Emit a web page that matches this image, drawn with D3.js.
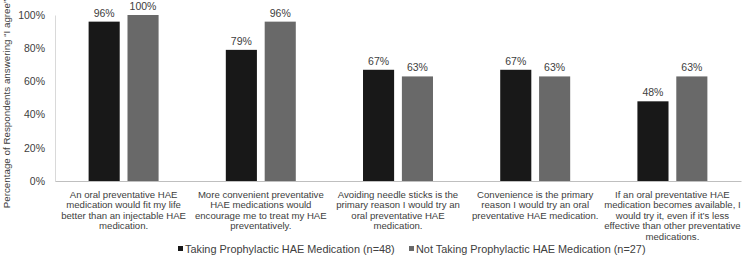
<!DOCTYPE html>
<html>
<head>
<meta charset="utf-8">
<script src="https://cdn.jsdelivr.net/npm/d3@7"></script>
<style>
  body { margin: 0; background: #fff; }
  text { font-family: "Liberation Sans", Arial, sans-serif; fill: #404040; }
</style>
</head>
<body>
<svg class="chart" width="745" height="264"></svg>
<script>
let categories = [
  ['An oral preventative HAE', 'medication would fit my life', 'better than an injectable HAE', 'medication.'],
  ['More convenient preventative', 'HAE medications would', 'encourage me to treat my HAE', 'preventatively.'],
  ['Avoiding needle sticks is the', 'primary reason I would try an', 'oral preventative HAE', 'medication.'],
  ['Convenience is the primary', 'reason I would try an oral', 'preventative HAE medication.'],
  ['If an oral preventative HAE', 'medication becomes available, I', 'would try it, even if it\u2019s less', 'effective than other preventative', 'medications.']
];
let seriesNames = ['Taking Prophylactic HAE Medication (n=48)', 'Not Taking Prophylactic HAE Medication (n=27)'];
let takingValues = [96, 79, 67, 67, 48];
let notTakingValues = [100, 96, 63, 63, 63];
let tickValues = [0, 20, 40, 60, 80, 100];
let yTitle = 'Percentage of Respondents answering \u201cI agree\u201d';

let colors = ['#181818', '#696969'];
let margin = {top: 15, left: 55, right: 4, bottom: 83},
    width = 745 - margin.left - margin.right,
    height = 264 - margin.top - margin.bottom;

let svg = d3.select('.chart');
let g = svg.append('g').attr('transform', 'translate(' + margin.left + ',' + margin.top + ')');

let x = d3.scaleBand()
  .domain(d3.range(categories.length))
  .range([0, width])
  .padding(0);

let groupWidth = x.bandwidth() * 0.51;
let xSub = d3.scaleBand()
  .domain([0, 1])
  .range([0, groupWidth])
  .paddingInner(0.2);

let y = d3.scaleLinear()
  .domain([0, 100])
  .range([height, 0]);

// y axis
let yAxis = d3.axisLeft(y)
  .tickValues(tickValues)
  .tickFormat(function (d) { return d + '%'; })
  .tickSize(0)
  .tickPadding(10);

let yAxisG = g.append('g').attr('class', 'y-axis').call(yAxis);
yAxisG.select('.domain').attr('stroke', '#d9d9d9');
yAxisG.selectAll('text').style('font-size', '10.5px').attr('fill', '#404040');

// x axis
let xAxis = d3.axisBottom(x).tickSize(0).tickFormat('');
let xAxisG = g.append('g')
  .attr('class', 'x-axis')
  .attr('transform', 'translate(0,' + height + ')')
  .call(xAxis);
xAxisG.select('.domain').attr('stroke', '#bfbfbf');

// bars
let data = categories.map(function (c, i) {
  return [takingValues[i], notTakingValues[i]];
});

let groups = g.selectAll('.group')
  .data(data)
  .enter()
  .append('g')
  .attr('class', 'group')
  .attr('transform', function (d, i) {
    return 'translate(' + (x(i) + (x.bandwidth() - groupWidth) / 2) + ',0)';
  });

groups.selectAll('.bar')
  .data(function (d) { return d; })
  .enter()
  .append('rect')
  .attr('class', 'bar')
  .attr('x', function (d, j) { return xSub(j); })
  .attr('y', function (d) { return y(d); })
  .attr('width', xSub.bandwidth())
  .attr('height', function (d) { return height - y(d); })
  .attr('fill', function (d, j) { return colors[j]; });

groups.selectAll('.value-label')
  .data(function (d) { return d; })
  .enter()
  .append('text')
  .attr('class', 'value-label')
  .attr('x', function (d, j) { return xSub(j) + xSub.bandwidth() / 2; })
  .attr('y', function (d) { return y(d) - 5; })
  .attr('text-anchor', 'middle')
  .style('font-size', '10.5px')
  .text(function (d) { return d + '%'; });

// category labels
let catLabels = g.selectAll('.cat-label')
  .data(categories)
  .enter()
  .append('text')
  .attr('class', 'cat-label')
  .attr('text-anchor', 'middle')
  .attr('transform', function (d, i) {
    return 'translate(' + (x(i) + x.bandwidth() / 2) + ',' + (height + 17) + ')';
  })
  .style('font-size', '9.6px');

catLabels.selectAll('tspan')
  .data(function (d) { return d; })
  .enter()
  .append('tspan')
  .attr('x', 0)
  .attr('dy', function (d, k) { return k === 0 ? 0 : 10.4; })
  .text(function (d) { return d; });

// y title
svg.append('text')
  .attr('transform', 'translate(10,104) rotate(-90)')
  .attr('text-anchor', 'middle')
  .style('font-size', '9.8px')
  .text(yTitle);

// legend
let legendX = [178, 409];
let legend = svg.selectAll('.legend')
  .data(seriesNames)
  .enter()
  .append('g')
  .attr('class', 'legend')
  .attr('transform', function (d, i) { return 'translate(' + legendX[i] + ',253)'; });

legend.append('rect')
  .attr('x', 0)
  .attr('y', -7)
  .attr('width', 5)
  .attr('height', 5)
  .attr('fill', function (d, i) { return colors[i]; });

legend.append('text')
  .attr('x', 7)
  .attr('y', 0)
  .style('font-size', '10.9px')
  .text(function (d) { return d; });
</script>
</body>
</html>
